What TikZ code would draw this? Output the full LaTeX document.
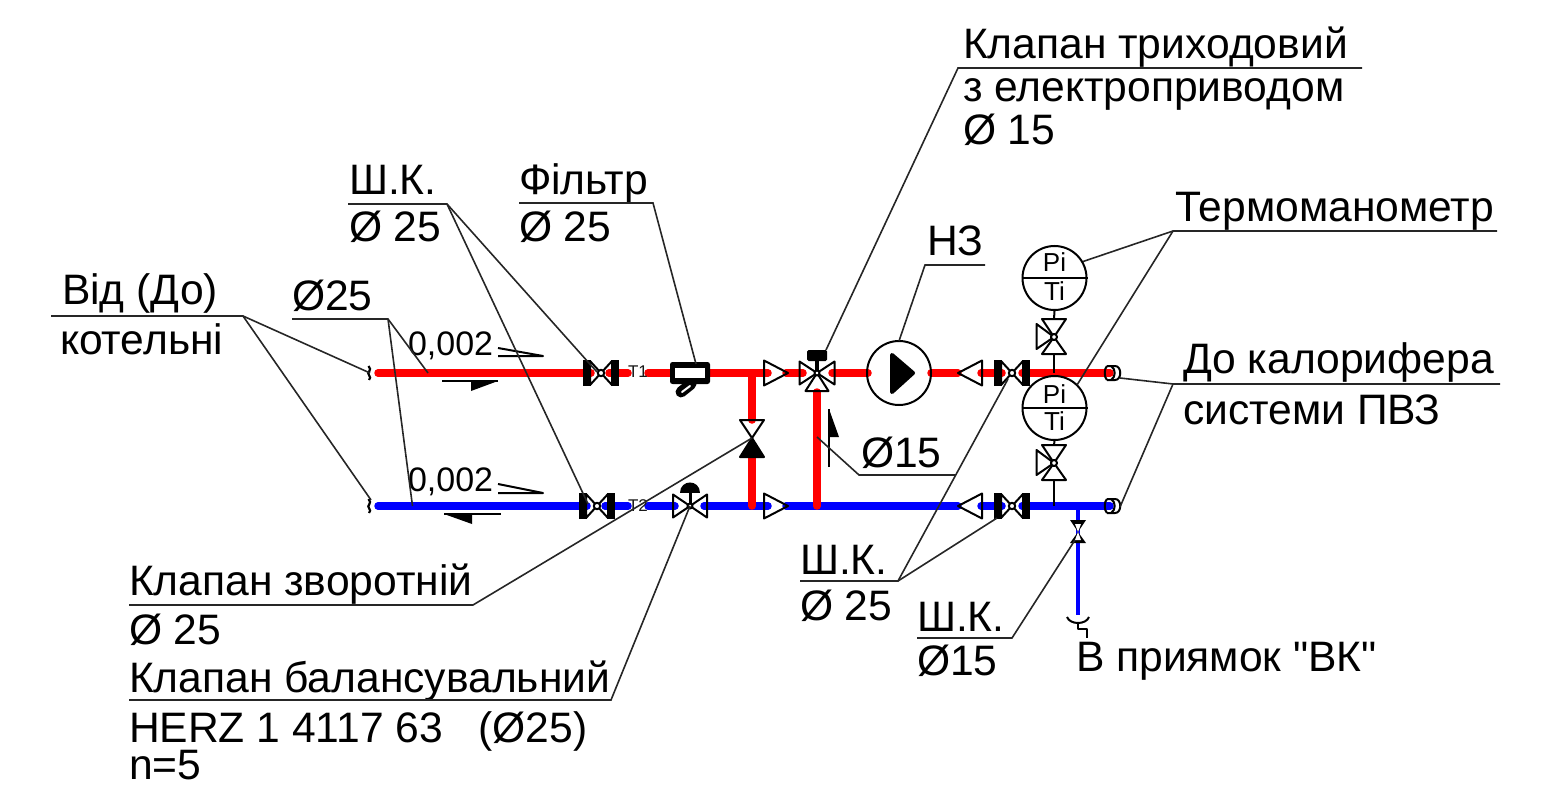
\documentclass[tikz,border=0pt]{standalone}
\usepackage{fontspec}
\setmainfont{Liberation Sans}
\newfontfamily\plainfont{Liberation Sans}
\newcommand{\bigtxt}{\fontsize{42.6}{42.6}\selectfont}
\begin{document}
\begin{tikzpicture}[x=1pt,y=-1pt,
  redpipe/.style={line width=7.5pt,line cap=round,draw={rgb,255:red,255;green,0;blue,0}},
  bluepipe/.style={line width=7.5pt,line cap=round,draw={rgb,255:red,0;green,0;blue,255}},
  drainpipe/.style={line width=3.8pt,draw={rgb,255:red,0;green,0;blue,255}},
  leader/.style={line width=1.6pt,draw=black!85},
  sym/.style={line width=2pt,draw=black,line join=round},
  lab/.style={anchor=base west,inner sep=0pt,outer sep=0pt,font=\bigtxt},
  tiny/.style={inner sep=0pt,font=\fontsize{17}{17}\selectfont,text=black!90},
  gaugetxt/.style={inner sep=0pt,font=\fontsize{26}{26}\selectfont},
  gauge/.style={circle,draw=black,line width=2pt,minimum size=64pt,inner sep=0pt,fill=white},
  flangevalve/.pic={
    \fill (-18,-13) rectangle (-10,13);
    \fill (10,-13) rectangle (18,13);
    \draw[sym] (0,0) -- (-11,-12) -- (-11,12) -- cycle;
    \draw[sym] (0,0) -- (11,-12) -- (11,12) -- cycle;
    \draw[sym,fill=white] (0,0) circle (3.2);
  },
  reducer/.pic={\draw[sym] (0,0) -- (-24,-12.5) -- (-24,12.5) -- cycle;},
  balvalve/.pic={
    \draw[sym] (0,0) -- (-17,-11.5) -- (-17,11.5) -- cycle;
    \draw[sym] (0,0) -- (17,-11.5) -- (17,11.5) -- cycle;
    \draw[line width=3pt] (0,0) -- (0,-14);
    \fill (-10,-13) .. controls (-10,-27) and (10,-27) .. (10,-13) -- cycle;
    \draw[sym,fill=white] (0,0) circle (2.5);
  },
  threeway/.pic={
    \draw[sym] (0,0) -- (-17.5,-11.5) -- (-17.5,11.5) -- cycle;
    \draw[sym] (0,0) -- (17.5,-11.5) -- (17.5,11.5) -- cycle;
    \draw[sym] (0,0) -- (-11.5,18) -- (11.5,18) -- cycle;
    \draw[line width=3.5pt] (0,0) -- (0,-14);
    \fill[rounded corners=1.5pt] (-10,-23) rectangle (10,-12);
    \draw[sym,fill=white] (0,0) circle (2.5);
  },
  needle/.pic={
    \draw[sym] (0,0) -- (-12,-18) -- (12,-18) -- cycle;
    \draw[sym] (0,0) -- (-12,17) -- (12,17) -- cycle;
    \draw[sym] (0,0) -- (-17.5,-13) -- (-17.5,12) -- cycle;
    \draw[sym,fill=white] (0,0) circle (3);
  },
  endcap/.pic={
    \draw[sym] (-3,-7) -- (5,-7) .. controls (12,-7) and (12,7) .. (5,7) -- (-3,7);
    \draw[sym] (1,-7) .. controls (6,-4) and (6,4) .. (1,7);
    \draw[sym] (-3,-7) .. controls (-6,-5) and (-6,5) .. (-3,7);
  },
  breakmark/.pic={
    \draw[line width=2.2pt] (-1.5,-7) .. controls (3,-3) and (-4,0) .. (-1,2) .. controls (1,3.5) and (0,6) .. (-1,7);
  }
]
\useasboundingbox (0,0) rectangle (1565,786);
% junction and equipment coordinates
\coordinate (rs) at (378,373);
\coordinate (bs) at (378,506);
\coordinate (v1) at (601,373);
\coordinate (v2) at (597,506);
\coordinate (v3) at (1012,373);
\coordinate (v4) at (1012,506);
\coordinate (jr) at (752,373);
\coordinate (jb) at (752,506);
\coordinate (tw) at (817,373);
\coordinate (jc) at (817,506);
\coordinate (bal) at (690,506);
\coordinate (chk) at (752,438);
\coordinate (re) at (1110,373);
\coordinate (be) at (1110,506);
\coordinate (dj) at (1078,506);
\coordinate (dv) at (1078,532);
\coordinate (de) at (1078,615);
\coordinate (n1) at (1054,337);
\coordinate (n2) at (1054,463);
\coordinate (s1) at (1054,373);
\coordinate (s2) at (1054,506);
% pipes
\draw[redpipe] (rs) -- (591,373);
\draw[redpipe] (609,373) -- (628,373);
\draw[redpipe] (648,373) -- (768,373);
\draw[redpipe] (786,373) -- (803,373);
\draw[redpipe] (832,373) -- (868,373);
\draw[redpipe] (931,373) -- (958,373);
\draw[redpipe] (981,373) -- (1002,373);
\draw[redpipe] (1022,373) -- (re);
\draw[redpipe] (jr) -- (752,420);
\draw[bluepipe] (bs) -- (587,506);
\draw[bluepipe] (605,506) -- (628,506);
\draw[bluepipe] (648,506) -- (675,506);
\draw[bluepipe] (704,506) -- (jb) -- (768,506);
\draw[bluepipe] (786,506) -- (958,506);
\draw[bluepipe] (981,506) -- (1002,506);
\draw[bluepipe] (1022,506) -- (be);
\draw[redpipe] (752,457) -- (jb);
\draw[redpipe] (tw) ++(0,19) -- (jc);
\draw[drainpipe] (dj) -- (de);
% fittings
\pic at (v1) {flangevalve};
\pic at (v2) {flangevalve};
\pic at (v3) {flangevalve};
\pic at (v4) {flangevalve};
\pic at (788,373) {reducer};
\pic at (788,506) {reducer};
\pic[rotate=180] at (958,373) {reducer};
\pic[rotate=180] at (958,506) {reducer};
\pic at (bal) {balvalve};
\pic at (tw) {threeway};
\pic at (n1) {needle};
\pic at (n2) {needle};
\pic at (re) {endcap};
\pic at (be) {endcap};
\pic at (370,373) {breakmark};
\pic at (370,506) {breakmark};
% filter
\draw[line width=11pt,line cap=round] (681,392) -- (691,384);
\fill[rounded corners=2.5pt] (670,362) rectangle (710,384);
\fill[white] (675,368) rectangle (705,378);
\draw[line width=2pt,white,line cap=round] (682,392) -- (690,386);
% check valve
\draw[sym] (chk) -- (740,420) -- (764,420) -- cycle;
\draw[sym,fill=black] (chk) -- (740,457) -- (764,457) -- cycle;
% pump
\node[circle,draw=black,line width=2pt,minimum size=64pt,inner sep=0pt] (pump) at (899,373) {};
\fill[line join=round,draw=black,line width=4pt] (892,355) -- (913,373) -- (892,392) -- cycle;
% gauges
\node[gauge] (g1) at (1054.5,278) {};
\node[gauge] (g2) at (1054.5,408) {};
\draw[sym] (g1.west) -- (g1.east);
\draw[sym] (g2.west) -- (g2.east);
\node[gaugetxt,anchor=base] (pi1) at (1054.5,272) {Pi};
\node[gaugetxt,anchor=base] (ti1) at (1054.5,300) {Ti};
\node[gaugetxt,anchor=base] (pi2) at (1054.5,403) {Pi};
\node[gaugetxt,anchor=base] (ti2) at (1054.5,430) {Ti};
\draw[sym] (g1.south) -- (1054,319);
\draw[sym] (1054,354) -- (s1);
\draw[sym] (g2.south) -- (1054,445);
\draw[sym] (1054,480) -- (s2);
% drain valve
\fill (dv) -- (1070,520) -- (1086,520) -- cycle;
\fill (dv) -- (1070,543) -- (1086,543) -- cycle;
\fill[white] (dv) -- (1075,524) -- (1081,524) -- cycle;
\fill[white] (dv) -- (1075,540) -- (1081,540) -- cycle;
% drain funnel
\draw[sym] (1067,617) .. controls (1070,625) and (1086,625) .. (1089,617);
\draw[sym] (1078,623) -- (1078,629) -- (1087,629) -- (1087,638);
% tags on the mains
\node[tiny] (t1) at (638,372) {T1};
\node[tiny] (t2) at (638,506) {T2};
% slope marks and flow arrows
\node[lab,font=\fontsize{34}{34}\selectfont] (sl1) at (408,355) {0,002};
\node[lab,font=\fontsize{34}{34}\selectfont] (sl2) at (408,491) {0,002};
\draw[sym] (498,348) -- (543,356) -- (498,356);
\draw[sym] (498,484) -- (543,493) -- (498,493);
\draw[sym] (442,381) -- (498,381);
\fill (498,381) -- (471,381) -- (471,391) -- cycle;
\draw[sym] (444,514) -- (501,514);
\fill (444,514) -- (472,514) -- (472,524) -- cycle;
\draw[sym] (829,467) -- (829,409);
\fill (829,409) -- (829,437) -- (839,437) -- cycle;
% labels
\node[lab] (ot) at (62,304) {Від (До)};
\node[lab] (kt) at (60,354) {котельні};
\node[lab] (d25a) at (292,310) {Ø25};
\node[lab] (sk1) at (349,195) {Ш.К.};
\node[lab] (sk1d) at (349,242) {Ø 25};
\node[lab] (fl) at (519,195) {Фільтр};
\node[lab] (fld) at (519,242) {Ø 25};
\node[lab] (kl3a) at (963,59) {Клапан триходовий};
\node[lab] (kl3b) at (963,102) {з електроприводом};
\node[lab] (kl3c) at (963,145) {Ø 15};
\node[lab] (nz) at (927,256) {НЗ};
\node[lab] (tm) at (1175,222) {Термоманометр};
\node[lab] (dk) at (1183,373) {До калорифера};
\node[lab] (pv) at (1183,424) {системи ПВЗ};
\node[lab] (d15) at (861,467) {Ø15};
\node[lab] (sk2) at (800,574) {Ш.К.};
\node[lab] (sk2d) at (800,620) {Ø 25};
\node[lab] (sk3) at (917,631) {Ш.К.};
\node[lab] (sk3d) at (917,675) {Ø15};
\node[lab] (vk) at (1076,671) {\plainfont В приямок "ВК"};
\node[lab] (kz) at (129,595) {Клапан зворотній};
\node[lab] (kzd) at (129,644) {Ø 25};
\node[lab] (kb) at (129,692) {Клапан балансувальний};
\node[lab] (hz) at (129,742) {HERZ 1 4117 63~~~(Ø25)};
\node[lab] (nn) at (129,779) {n=5};
% leader knees
\coordinate (a1) at (51,316);   \coordinate (a2) at (243,316);
\coordinate (b1) at (292,319);  \coordinate (b2) at (388,319);
\coordinate (c1) at (348,204);  \coordinate (c2) at (447,204);
\coordinate (d1) at (519,203);  \coordinate (d2) at (653,203);
\coordinate (e2) at (958,68);   \coordinate (e3) at (1362,68);
\coordinate (f1) at (985,265);  \coordinate (f2) at (925,265);
\coordinate (g0) at (1497,231); \coordinate (g3) at (1173,231);
\coordinate (h1) at (1500,384); \coordinate (h2) at (1173,384);
\coordinate (i1) at (859,475);  \coordinate (i2) at (955,475);
\coordinate (j1) at (800,581);  \coordinate (j2) at (898,581);
\coordinate (k1) at (917,638);  \coordinate (k2) at (1012,638);
\coordinate (l1) at (129,605);  \coordinate (l2) at (473,605);
\coordinate (m1) at (129,700);  \coordinate (m2) at (611,700);
% leaders
\draw[leader] (a1) -- (a2) -- (370,373);
\draw[leader] (a2) -- (371,500);
\draw[leader] (b1) -- (b2) -- (428,373);
\draw[leader] (b2) -- (412.5,506);
\draw[leader] (c1) -- (c2) -- (597,372);
\draw[leader] (c2) -- (588,504);
\draw[leader] (d1) -- (d2) -- (696,364);
\draw[leader] (e3) -- (e2) -- (826,350);
\draw[leader] (f1) -- (f2) -- (899,341);
\draw[leader] (g0) -- (g3) -- (g1.30);
\draw[leader] (g3) -- (1077,385);
\draw[leader] (h1) -- (h2) -- (1120,378);
\draw[leader] (h2) -- (1120,507);
\draw[leader] (817,437) -- (i1) -- (i2);
\draw[leader] (j1) -- (j2) -- (1008,379);
\draw[leader] (j2) -- (997,518);
\draw[leader] (k1) -- (k2) -- (1075,540);
\draw[leader] (l1) -- (l2) -- (chk);
\draw[leader] (m1) -- (m2) -- (bal);
\end{tikzpicture}
\end{document}
